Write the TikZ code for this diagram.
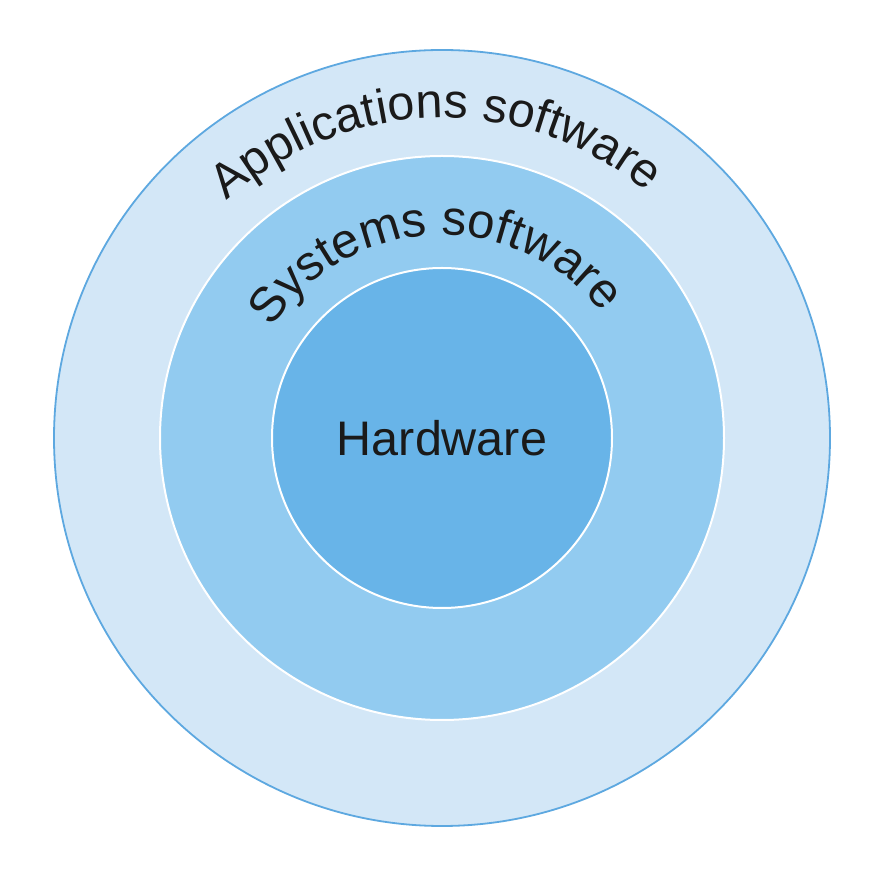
\documentclass[tikz,border=0pt]{standalone}
\usepackage{fontspec}
\setmainfont{Liberation Sans}
\usetikzlibrary{decorations.text}
\definecolor{outerfill}{HTML}{D3E7F7}
\definecolor{outerline}{HTML}{5DA8E0}
\definecolor{midfill}{HTML}{92CBF0}
\definecolor{innerfill}{HTML}{68B4E8}
\definecolor{txt}{HTML}{1A1A1A}
\tikzset{
  ring/.style={circle, inner sep=0pt, outer sep=0pt},
  arclabel/.style={decorate, decoration={text along path, text align=center, text color=txt}}
}
\begin{document}
\begin{tikzpicture}[x=1pt,y=1pt]
\useasboundingbox (0,0) rectangle (879,876);
\fill[white] (0,0) rectangle (879,876);
\node[ring, minimum size=776pt, fill=outerfill, draw=outerline, line width=1.8pt] (outer) at (442,438) {};
\node[ring, minimum size=564pt, fill=midfill, draw=white, line width=2pt] (mid) at (442,438) {};
\node[ring, minimum size=340pt, fill=innerfill, draw=white, line width=2pt, text=txt, font=\fontsize{48.5}{58}\selectfont] (inner) at (442,438) {Hardware};
\path[arclabel, decoration={text={|\fontsize{48.5}{58}\selectfont|Applications software}}]
  (outer.center) ++(161.2:320) arc[start angle=161.2, end angle=21.2, radius=320];
\path[arclabel, decoration={text={|\fontsize{49}{58}\selectfont|Systems software}}]
  (outer.center) ++(172.5:203) arc[start angle=172.5, end angle=12.5, radius=203];
\end{tikzpicture}
\end{document}
